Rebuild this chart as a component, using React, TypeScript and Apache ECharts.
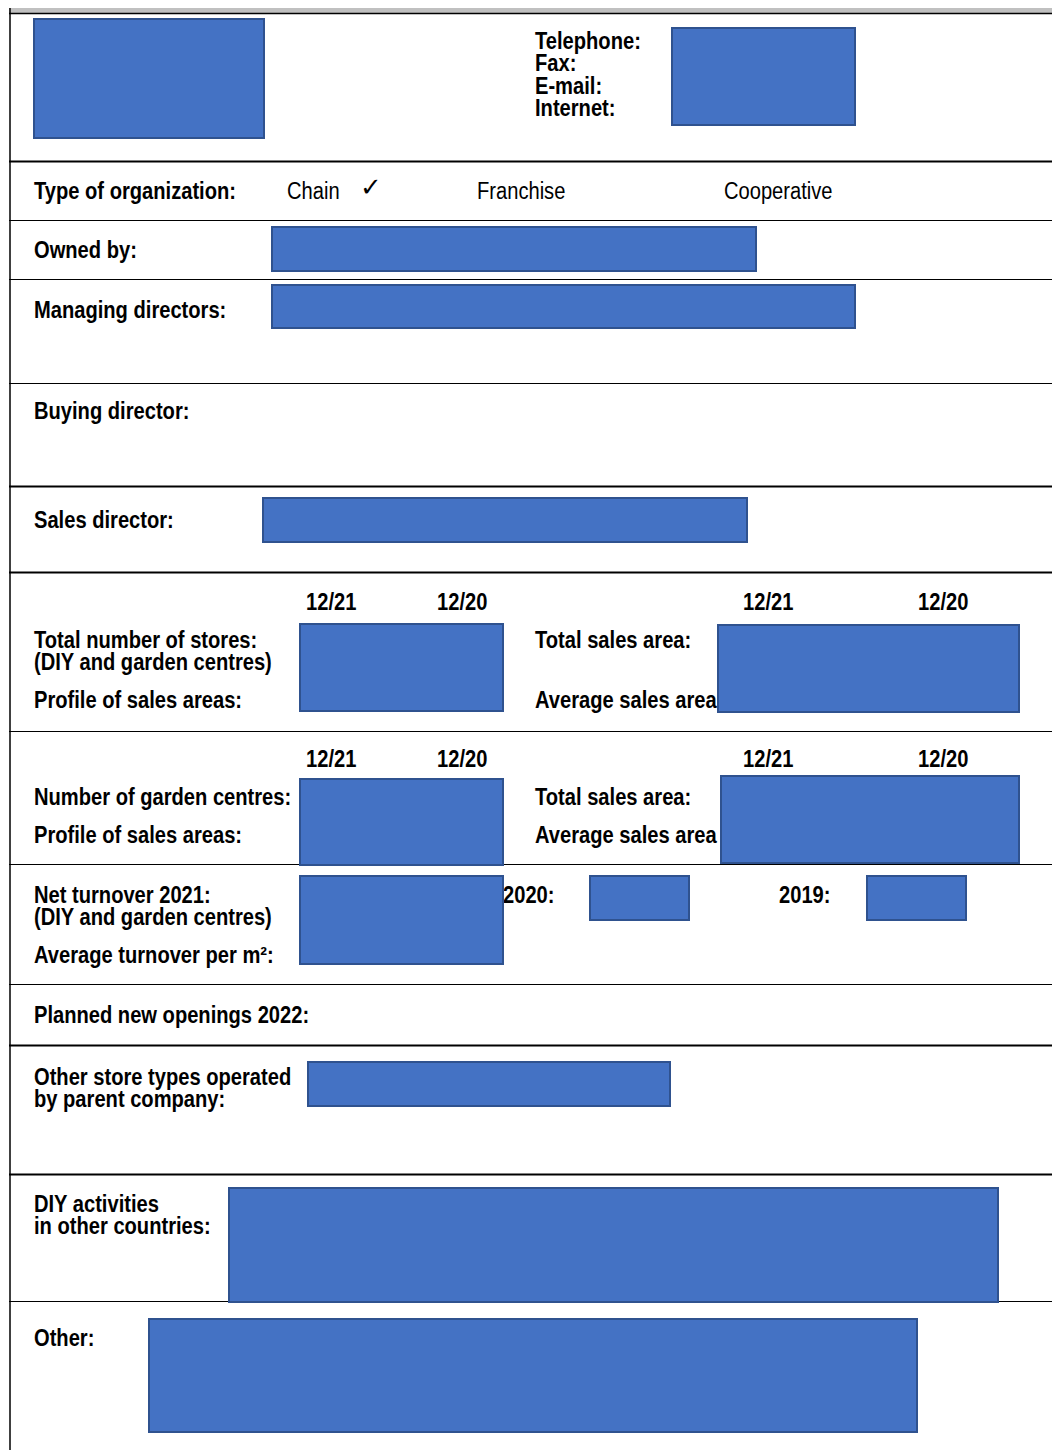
import React, { useEffect, useRef } from "react";
import * as echarts from "echarts";

// ---- content ----
const contactLabels = ["Telephone:", "Fax:", "E-mail:", "Internet:"];
const orgTypes = ["Chain", "Franchise", "Cooperative"];
const checkMark = "✓";
const periodLabels = ["12/21", "12/20"];
const sectionLabels = [
  "Type of organization:",
  "Owned by:",
  "Managing directors:",
  "Buying director:",
  "Sales director:",
];
const storesLabels = ["Total number of stores:", "(DIY and garden centres)", "Profile of sales areas:"];
const areaLabels = ["Total sales area:", "Average sales area"];
const gardenLabels = ["Number of garden centres:", "Profile of sales areas:"];
const turnoverLabels = ["Net turnover 2021:", "(DIY and garden centres)", "Average turnover per m²:"];
const yearLabels = ["2020:", "2019:"];
const bottomLabels = [
  "Planned new openings 2022:",
  "Other store types operated",
  "by parent company:",
  "DIY activities",
  "in other countries:",
  "Other:",
];

// ---- layout (positions, not data) ----
const FONT_FAMILY = '"Liberation Sans", Arial, sans-serif';
const BOLD = `bold 23px ${FONT_FAMILY}`;
const REG = `23px ${FONT_FAMILY}`;
const SQUEEZE = 0.875;
const FILL = "#4472C4";
const STROKE = "#2F528F";

// horizontal rules: [y, thickness]
const rules: [number, number][] = [
  [13.5, 1.5],
  [161.5, 2],
  [220.5, 1],
  [279.5, 1],
  [383.5, 1],
  [486.5, 2],
  [572.5, 2],
  [731.5, 1],
  [864.5, 1],
  [984.5, 1],
  [1045.5, 2],
  [1174.5, 2],
  [1301.5, 1],
];

// redaction boxes: [x0, y0, x1, y1]
const boxes: [number, number, number, number][] = [
  [34, 19, 264, 138],
  [672, 28, 855, 125],
  [272, 227, 756, 271],
  [272, 285, 855, 328],
  [263, 498, 747, 542],
  [300, 624, 503, 711],
  [718, 625, 1019, 712],
  [300, 779, 503, 865],
  [721, 776, 1019, 863],
  [300, 876, 503, 964],
  [590, 876, 689, 920],
  [867, 876, 966, 920],
  [308, 1062, 670, 1106],
  [229, 1188, 998, 1302],
  [149, 1319, 917, 1432],
];

function txt(text: string, x: number, y: number, font: string, z = 10, sx = SQUEEZE) {
  return {
    type: "text",
    z,
    x,
    y,
    scaleX: sx,
    style: { text, x: 0, y: 0, font, fill: "#000", verticalAlign: "middle", align: "left" },
  };
}

export default function App() {
  const ref = useRef<HTMLDivElement>(null);
  useEffect(() => {
    document.body.style.margin = "0";
    const chart = echarts.init(ref.current!, null, { renderer: "svg" });
    const els: any[] = [];

    // top gray band
    els.push({ type: "rect", z: 1, shape: { x: 9, y: 8, width: 1043, height: 5 }, style: { fill: "#C0C0C0" } });
    // left vertical line
    els.push({ type: "line", z: 2, shape: { x1: 10, y1: 8, x2: 10, y2: 1450 }, style: { stroke: "#000", lineWidth: 1.5 } });
    rules.forEach(([y, w]) =>
      els.push({ type: "line", z: 2, shape: { x1: 9, y1: y, x2: 1052, y2: y }, style: { stroke: "#000", lineWidth: w } })
    );

    // header contact labels
    contactLabels.forEach((t, i) => els.push(txt(t, 535, 41 + i * 22.3, BOLD)));

    // type of organization
    els.push(txt(sectionLabels[0], 34, 191, BOLD));
    els.push(txt(orgTypes[0], 287, 191, REG));
    els.push(txt(checkMark, 360, 187, `26px "DejaVu Sans", sans-serif`, 10, 1));
    els.push(txt(orgTypes[1], 477, 191, REG));
    els.push(txt(orgTypes[2], 724, 191, REG));

    els.push(txt(sectionLabels[1], 34, 250, BOLD));
    els.push(txt(sectionLabels[2], 34, 310, BOLD));
    els.push(txt(sectionLabels[3], 34, 411, BOLD));
    els.push(txt(sectionLabels[4], 34, 520, BOLD));

    // stores block
    [602, 759].forEach((y) => {
      els.push(txt(periodLabels[0], 306, y, BOLD));
      els.push(txt(periodLabels[1], 437, y, BOLD));
      els.push(txt(periodLabels[0], 743, y, BOLD));
      els.push(txt(periodLabels[1], 918, y, BOLD));
    });
    els.push(txt(storesLabels[0], 34, 640, BOLD));
    els.push(txt(storesLabels[1], 34, 662, BOLD));
    els.push(txt(storesLabels[2], 34, 700, BOLD));
    els.push(txt(areaLabels[0], 535, 640, BOLD));
    els.push(txt(areaLabels[1], 535, 700, BOLD, 5));

    els.push(txt(gardenLabels[0], 34, 797, BOLD));
    els.push(txt(gardenLabels[1], 34, 835, BOLD));
    els.push(txt(areaLabels[0], 535, 797, BOLD));
    els.push(txt(areaLabels[1], 535, 835, BOLD, 5));

    // turnover
    els.push(txt(turnoverLabels[0], 34, 895, BOLD));
    els.push(txt(turnoverLabels[1], 34, 917, BOLD));
    els.push(txt(turnoverLabels[2], 34, 955, BOLD));
    els.push(txt(yearLabels[0], 503, 895, BOLD, 5));
    els.push(txt(yearLabels[1], 779, 895, BOLD));

    // bottom
    els.push(txt(bottomLabels[0], 34, 1015, BOLD));
    els.push(txt(bottomLabels[1], 34, 1077, BOLD));
    els.push(txt(bottomLabels[2], 34, 1099, BOLD));
    els.push(txt(bottomLabels[3], 34, 1204, BOLD));
    els.push(txt(bottomLabels[4], 34, 1226, BOLD));
    els.push(txt(bottomLabels[5], 34, 1338, BOLD));

    // boxes on top
    boxes.forEach(([x0, y0, x1, y1]) =>
      els.push({
        type: "rect",
        z: 8,
        shape: { x: x0, y: y0, width: x1 - x0, height: y1 - y0 },
        style: { fill: FILL, stroke: STROKE, lineWidth: 2 },
      })
    );

    chart.setOption({ animation: false, backgroundColor: "#fff", graphic: { elements: els } });
    return () => chart.dispose();
  }, []);
  return <div ref={ref} style={{ width: 1052, height: 1450 }} />;
}
